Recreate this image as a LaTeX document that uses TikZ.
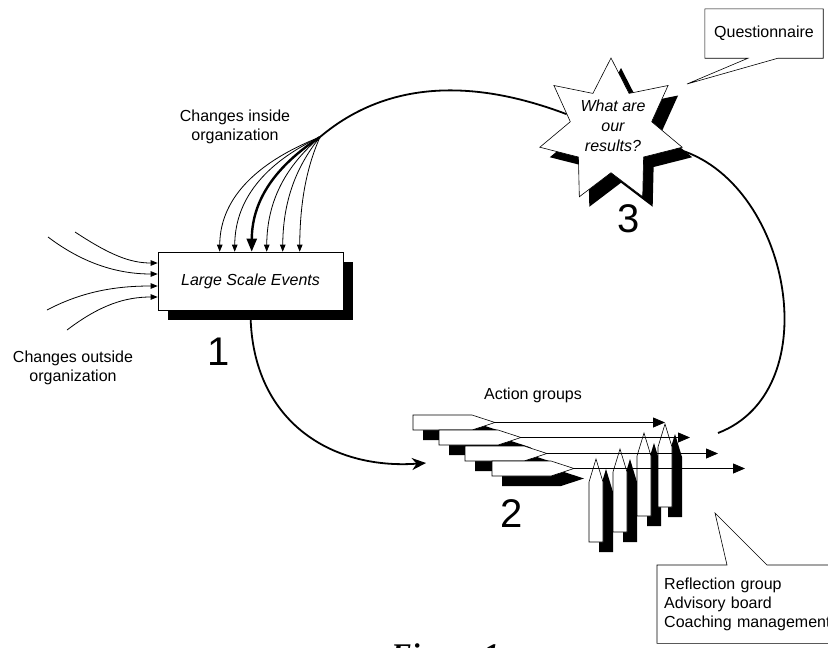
\documentclass[tikz,border=0pt]{standalone}
\usepackage{fontspec}
\setmainfont{Liberation Sans}
\newfontfamily\capfont{Liberation Serif}
\usetikzlibrary{shapes.geometric,arrows.meta,calc,shadows}
\tikzstyle{txt} = [font=\fontsize{16}{19}\selectfont, align=center, inner sep=0pt]
\tikzstyle{bignum} = [font=\fontsize{40}{44}\selectfont, inner sep=0pt]
\tikzstyle{shadowed} = [drop shadow={shadow xshift=10pt, shadow yshift=-10pt, opacity=1, fill=black}]
\tikzstyle{eventbox} = [rectangle, draw=black, line width=0.6pt, fill=white, minimum width=185pt, minimum height=58pt, shadowed, font=\fontsize{16}{19}\selectfont\itshape]
\tikzstyle{resultstar} = [star, star points=7, star point ratio=1.75, minimum size=146pt, inner sep=0pt, draw=black, line width=0.6pt, fill=white, shadowed]
\tikzstyle{loopline} = [line width=1.8pt]
\tikzstyle{inarrow} = [line width=0.8pt, -{Triangle[length=7pt,width=5.5pt]}]
\tikzstyle{bigarrow} = [line width=2.4pt, -{Triangle[length=13pt,width=10pt]}]
\tikzstyle{grouparrow} = [line width=0.8pt, -{Triangle[length=12pt,width=10pt]}]
\tikzstyle{callout} = [draw=black, line width=0.6pt]
\tikzstyle{tag} = [draw=black, line width=0.6pt, fill=white]
\tikzstyle{tagshadow} = [fill=black, shift={(10,10)}]
% action group tags: horizontal (top left corner) and vertical (bottom left corner)
\newcommand{\hgroup}[3]{%
  \fill[tagshadow] (#2,#3) -- ++(59,0) -- ++(23,7.5) -- ++(-23,7.5) -- ++(-59,0) -- cycle;
  \draw[tag] (#2,#3) -- ++(59,0) -- ++(23,7.5) coordinate (#1) -- ++(-23,7.5) -- ++(-59,0) -- cycle;}
\newcommand{\vgroup}[2]{%
  \fill[tagshadow] (#1,#2) -- ++(14,0) -- ++(0,-60) -- ++(-7,-23) -- ++(-7,23) -- cycle;
  \draw[tag] (#1,#2) -- ++(14,0) -- ++(0,-60) -- ++(-7,-23) -- ++(-7,23) -- cycle;}

\begin{document}
\begin{tikzpicture}[x=1pt, y=-1pt]
    \useasboundingbox (0,0) rectangle (828,648);

    % Action groups
    \vgroup{589}{542}
    \vgroup{613}{532}
    \vgroup{637}{516}
    \vgroup{658}{507}
    \hgroup{h1}{413}{415}
    \hgroup{h2}{439}{430}
    \hgroup{h3}{465}{446}
    \hgroup{h4}{492}{461}
    \coordinate (e1) at (665,422.5);
    \coordinate (e2) at (690,437.5);
    \coordinate (e3) at (718,453.5);
    \coordinate (e4) at (745,468.5);
    \draw [grouparrow] (h1) -- (e1);
    \draw [grouparrow] (h2) -- (e2);
    \draw [grouparrow] (h3) -- (e3);
    \draw [grouparrow] (h4) -- (e4);

    % Nodes
    \node (lse) [eventbox] at (250.5,281) {Large Scale Events};
    \node (star) [resultstar] at (611,131) {};
    \node (startext) [txt, font=\fontsize{16}{20}\selectfont\itshape] at (613,126) {What are\\our\\results?};
    \node (one) [bignum] at (219,352) {1};
    \node (two) [bignum] at (512,514) {2};
    \node (three) [bignum] at (629,219) {3};
    \node (inside) [txt] at (235,127) {Changes inside\\organization};
    \node (outside) [txt] at (73,368) {Changes outside\\organization};
    \node (actlbl) [txt] at (533,395) {Action groups};
    \node (quest) [txt, minimum width=118pt, minimum height=49pt] at (764,33.5) {Questionnaire};
    \node (refl) [txt, anchor=north west, align=left, text width=180pt, inner xsep=7pt, minimum height=78pt] at (657,565) {Reflection group\\Advisory board\\Coaching management};
    \node (fig) [font=\capfont\bfseries\itshape\fontsize{30}{34}\selectfont, anchor=base] at (445,664) {Figure 1};

    % Free ends
    \coordinate (junc) at (320,137);
    \coordinate (loopend) at (718,433);
    \coordinate (entry) at (426,463);
    \coordinate (qtip) at (687,84);
    \coordinate (rtip) at (715,513);
    \coordinate (o1) at (75,232);
    \coordinate (o2) at (48,237);
    \coordinate (o3) at (47,310);
    \coordinate (o4) at (67,330);

    % Loop
    \draw [loopline] (junc) .. controls (372,93) and (450,70) .. (star);
    \draw [loopline] (star) .. controls (790,180) and (830,390) .. (loopend);
    \draw [loopline, -{Stealth[length=14pt,width=12pt]}] (lse.south) .. controls (250,420) and (330,470) .. (entry);

    % Changes inside
    \draw [inarrow] (junc) .. controls (262,160) and (220,195) .. ($(lse.north west)+(62,0)$);
    \draw [inarrow] (junc) .. controls (271,160) and (235,195) .. ($(lse.north west)+(77,0)$);
    \draw [bigarrow] (junc) .. controls (282,162) and (252,195) .. ($(lse.north west)+(94,0)$);
    \draw [inarrow] (junc) .. controls (291,162) and (267,195) .. ($(lse.north west)+(109,0)$);
    \draw [inarrow] (junc) .. controls (300,162) and (283,195) .. ($(lse.north west)+(125,0)$);
    \draw [inarrow] (junc) .. controls (309,162) and (300,195) .. ($(lse.north west)+(142,0)$);

    % Changes outside
    \draw [inarrow] (o1) .. controls (110,255) and (130,263) .. ($(lse.west)+(0,-18)$);
    \draw [inarrow] (o2) .. controls (85,265) and (120,274) .. ($(lse.west)+(0,-7)$);
    \draw [inarrow] (o3) .. controls (85,290) and (120,286) .. ($(lse.west)+(0,5)$);
    \draw [inarrow] (o4) .. controls (100,305) and (125,297) .. ($(lse.west)+(0,16)$);

    % Callouts
    \draw [callout] (quest.north west) -- (quest.north east) -- (quest.south east) -- ($(quest.south)+(14,0)$) -- (qtip) -- ($(quest.south)+(-16,0)$) -- (quest.south west) -- cycle;
    \draw [callout] (refl.north west) -- ($(refl.north west)+(70,0)$) -- (rtip) -- ($(refl.north west)+(110,0)$) -- (refl.north east) -- (refl.south east) -- (refl.south west) -- cycle;

\end{tikzpicture}
\end{document}
